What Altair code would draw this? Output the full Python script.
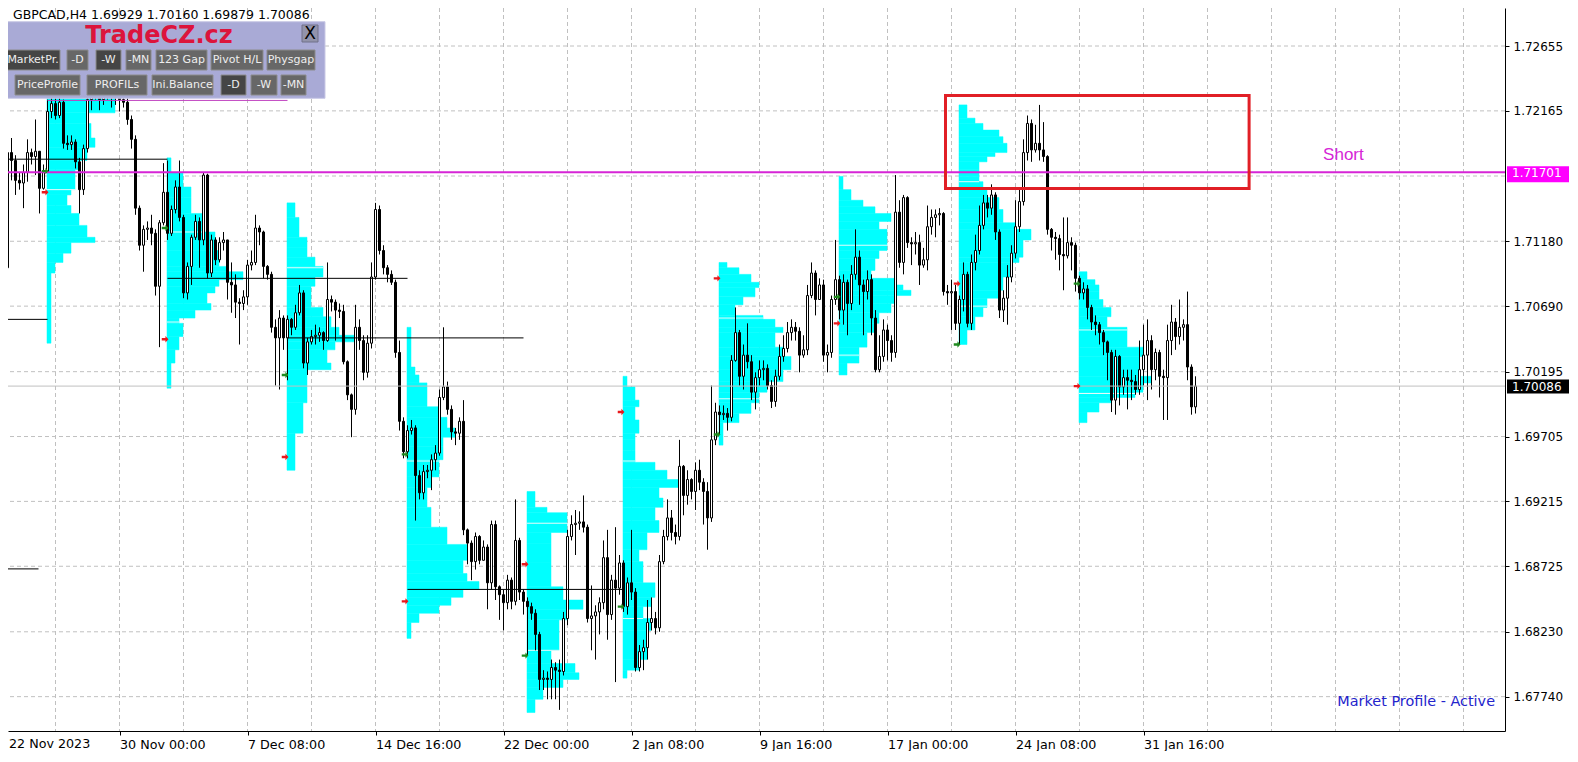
import altair as alt
import pandas as pd

# ---------------- data ----------------
symbol_line = "GBPCAD,H4  1.69929 1.70160 1.69879 1.70086"
first_open = 1.7100

close = [
1.7108, 1.7098, 1.7185, 1.7179, 1.7164, 1.7162, 1.7170, 1.7185, 1.7182, 1.7186, 1.7158, 1.7170,
1.7216, 1.7222, 1.7213, 1.7223, 1.7192, 1.7191, 1.7193, 1.7178, 1.7157, 1.7188, 1.7225, 1.7229, 1.7234, 1.7225, 1.7231, 1.7236, 1.7229, 1.7232, 1.7225, 1.7223, 1.7210, 1.7195, 1.7143, 1.7115, 1.7127, 1.7128, 1.7124, 1.7084, 1.7132, 1.7155,
1.7124, 1.7142, 1.7159, 1.7136, 1.7079, 1.7099, 1.7121, 1.7133, 1.7119, 1.7168, 1.7094, 1.7119, 1.7104, 1.7117, 1.7119, 1.7087, 1.7085, 1.7072, 1.7071, 1.7076, 1.7100, 1.7102, 1.7128, 1.7125, 1.7099, 1.7093, 1.7053, 1.7045, 1.7060, 1.7045,
1.7059, 1.7053, 1.7064, 1.7079, 1.7026, 1.7042, 1.7046, 1.7047, 1.7049, 1.7043, 1.7074, 1.7072, 1.7066, 1.7065, 1.7027, 1.7002, 1.6991, 1.7053, 1.7043, 1.7019, 1.7041, 1.7091, 1.7142, 1.7111, 1.7098, 1.7093, 1.7087, 1.7034, 1.6982, 1.6959,
1.6975, 1.6977, 1.6941, 1.6928, 1.6944, 1.6945, 1.6953, 1.6958, 1.7000, 1.7008, 1.6991, 1.6974, 1.6973, 1.6982, 1.6900, 1.6890, 1.6876, 1.6895, 1.6877, 1.6887, 1.6860, 1.6904, 1.6857, 1.6851, 1.6845, 1.6862, 1.6846, 1.6892, 1.6853, 1.6846,
1.6842, 1.6837, 1.6821, 1.6787, 1.6788, 1.6787, 1.6796, 1.6794, 1.6793, 1.6833, 1.6895, 1.6904, 1.6905, 1.6906, 1.6902, 1.6833, 1.6835, 1.6838, 1.6845, 1.6879, 1.6836, 1.6862, 1.6856, 1.6875,
1.6842, 1.6860, 1.6853, 1.6796, 1.6808, 1.6811, 1.6830, 1.6833, 1.6826, 1.6876, 1.6895, 1.6909, 1.6898, 1.6895, 1.6948, 1.6926, 1.6938, 1.6929, 1.6945, 1.6936, 1.6929, 1.6909, 1.6968, 1.6989,
1.6987, 1.6988, 1.6985, 1.7028, 1.7049, 1.7016, 1.7032, 1.7027, 1.7004, 1.7015, 1.7021, 1.7022, 1.7009, 1.6997, 1.7016, 1.7031, 1.7037, 1.7049, 1.7053, 1.7050, 1.7032, 1.7036, 1.7077, 1.7094, 1.7074, 1.7085, 1.7032, 1.7034, 1.7074, 1.7089,
1.7066, 1.7087, 1.7071, 1.7093, 1.7106, 1.7085, 1.7080, 1.7089, 1.7060, 1.7021, 1.7031, 1.7051, 1.7043, 1.7034, 1.7140, 1.7102, 1.7151, 1.7117, 1.7116, 1.7117, 1.7100, 1.7104, 1.7129, 1.7136, 1.7138, 1.7139, 1.7080, 1.7079, 1.7080, 1.7056,
1.7074, 1.7093, 1.7056, 1.7102, 1.7111, 1.7130, 1.7147, 1.7143, 1.7153, 1.7125, 1.7066, 1.7075, 1.7091, 1.7109, 1.7129, 1.7148, 1.7185, 1.7207, 1.7187, 1.7192, 1.7187, 1.7182, 1.7127, 1.7121, 1.7120, 1.7108, 1.7107, 1.7117, 1.7115, 1.7090,
1.7079, 1.7082, 1.7068, 1.7057, 1.7055, 1.7049, 1.7042, 1.7034, 1.6998, 1.7031, 1.7008, 1.7015, 1.7013, 1.7012, 1.7006, 1.7021, 1.7032, 1.7043, 1.7021, 1.7034, 1.7016, 1.7015, 1.7043, 1.7057, 1.7046, 1.7053, 1.7055, 1.7023, 1.69929, 1.70086]

high = [
1.7113, 1.7113, 1.7188, 1.7196, 1.7183, 1.7170, 1.7176, 1.7195, 1.7188, 1.7210, 1.7186, 1.7176,
1.7225, 1.7231, 1.7226, 1.7231, 1.7225, 1.7198, 1.7198, 1.7195, 1.7181, 1.7191, 1.7231, 1.7240, 1.7244, 1.7236, 1.7240, 1.7247, 1.7240, 1.7241, 1.7236, 1.7232, 1.7226, 1.7213, 1.7198, 1.7145, 1.7130, 1.7133, 1.7138, 1.7127, 1.7134, 1.7177,
1.7179, 1.7145, 1.7164, 1.7179, 1.7138, 1.7102, 1.7123, 1.7138, 1.7136, 1.7170, 1.7169, 1.7123, 1.7121, 1.7121, 1.7125, 1.7119, 1.7102, 1.7093, 1.7075, 1.7081, 1.7104, 1.7111, 1.7138, 1.7130, 1.7126, 1.7100, 1.7095, 1.7059, 1.7066, 1.7062,
1.7062, 1.7060, 1.7070, 1.7085, 1.7081, 1.7045, 1.7051, 1.7055, 1.7053, 1.7050, 1.7102, 1.7077, 1.7074, 1.7071, 1.7070, 1.7028, 1.7003, 1.7070, 1.7059, 1.7047, 1.7047, 1.7102, 1.7147, 1.7145, 1.7115, 1.7100, 1.7096, 1.7089, 1.7043, 1.6985,
1.6979, 1.6983, 1.6979, 1.6945, 1.6949, 1.6949, 1.6957, 1.6964, 1.7006, 1.7053, 1.7012, 1.6994, 1.6977, 1.6985, 1.6998, 1.6901, 1.6892, 1.6898, 1.6896, 1.6892, 1.6889, 1.6907, 1.6907, 1.6858, 1.6855, 1.6866, 1.6864, 1.6923, 1.6894, 1.6855,
1.6849, 1.6845, 1.6840, 1.6823, 1.6794, 1.6793, 1.6802, 1.6800, 1.6802, 1.6838, 1.6900, 1.6911, 1.6915, 1.6914, 1.6926, 1.6904, 1.6858, 1.6843, 1.6849, 1.6892, 1.6900, 1.6866, 1.6902, 1.6881,
1.6877, 1.6864, 1.6900, 1.6856, 1.6813, 1.6817, 1.6847, 1.6849, 1.6838, 1.6881, 1.6900, 1.6923, 1.6915, 1.6904, 1.6968, 1.6949, 1.6945, 1.6939, 1.6951, 1.6953, 1.6939, 1.6936, 1.7009, 1.6996,
1.6994, 1.6994, 1.6992, 1.7032, 1.7068, 1.7051, 1.7040, 1.7056, 1.7032, 1.7019, 1.7028, 1.7028, 1.7025, 1.7013, 1.7021, 1.7040, 1.7047, 1.7057, 1.7059, 1.7057, 1.7053, 1.7047, 1.7085, 1.7102, 1.7096, 1.7090, 1.7089, 1.7040, 1.7077, 1.7119,
1.7092, 1.7093, 1.7089, 1.7100, 1.7127, 1.7111, 1.7089, 1.7096, 1.7093, 1.7066, 1.7047, 1.7059, 1.7055, 1.7047, 1.7168, 1.7149, 1.7153, 1.7152, 1.7121, 1.7125, 1.7123, 1.7113, 1.7145, 1.7142, 1.7142, 1.7143, 1.7140, 1.7085, 1.7089, 1.7085,
1.7077, 1.7102, 1.7095, 1.7108, 1.7123, 1.7145, 1.7153, 1.7153, 1.7161, 1.7155, 1.7127, 1.7081, 1.7100, 1.7115, 1.7149, 1.7157, 1.7195, 1.7213, 1.7210, 1.7206, 1.7221, 1.7208, 1.7183, 1.7128, 1.7125, 1.7123, 1.7136, 1.7136, 1.7121, 1.7117,
1.7092, 1.7087, 1.7085, 1.7070, 1.7062, 1.7057, 1.7051, 1.7043, 1.7036, 1.7036, 1.7032, 1.7021, 1.7021, 1.7021, 1.7017, 1.7043, 1.7055, 1.7059, 1.7047, 1.7037, 1.7036, 1.7021, 1.7055, 1.7070, 1.7060, 1.7074, 1.7059, 1.7080, 1.7025, 1.70160]

low = [
1.7096, 1.7084, 1.7081, 1.7164, 1.7153, 1.7157, 1.7143, 1.7163, 1.7176, 1.7168, 1.7139, 1.7157,
1.7170, 1.7211, 1.7210, 1.7211, 1.7188, 1.7187, 1.7187, 1.7173, 1.7139, 1.7153, 1.7185, 1.7217, 1.7225, 1.7217, 1.7221, 1.7225, 1.7219, 1.7221, 1.7216, 1.7219, 1.7206, 1.7188, 1.7138, 1.7111, 1.7095, 1.7119, 1.7115, 1.7077, 1.7038, 1.7130,
1.7119, 1.7122, 1.7139, 1.7133, 1.7075, 1.7074, 1.7085, 1.7119, 1.7098, 1.7115, 1.7090, 1.7091, 1.7100, 1.7102, 1.7111, 1.7074, 1.7064, 1.7060, 1.7040, 1.7066, 1.7070, 1.7096, 1.7100, 1.7115, 1.7090, 1.7089, 1.7049, 1.7009, 1.7006, 1.7036,
1.7013, 1.7047, 1.7051, 1.7062, 1.7022, 1.7017, 1.7040, 1.7040, 1.7042, 1.7036, 1.7042, 1.7065, 1.7043, 1.7060, 1.7025, 1.6998, 1.6970, 1.6987, 1.7036, 1.7013, 1.7015, 1.7037, 1.7089, 1.7108, 1.7093, 1.7087, 1.7085, 1.7030, 1.6975, 1.6954,
1.6954, 1.6972, 1.6907, 1.6923, 1.6923, 1.6939, 1.6930, 1.6945, 1.6956, 1.6998, 1.6987, 1.6968, 1.6964, 1.6968, 1.6896, 1.6874, 1.6862, 1.6870, 1.6874, 1.6877, 1.6840, 1.6855, 1.6847, 1.6832, 1.6824, 1.6840, 1.6840, 1.6843, 1.6847, 1.6836,
1.6805, 1.6832, 1.6809, 1.6779, 1.6779, 1.6772, 1.6772, 1.6772, 1.6764, 1.6790, 1.6828, 1.6892, 1.6881, 1.6900, 1.6898, 1.6830, 1.6809, 1.6802, 1.6821, 1.6840, 1.6817, 1.6832, 1.6785, 1.6851,
1.6838, 1.6836, 1.6847, 1.6793, 1.6793, 1.6794, 1.6802, 1.6824, 1.6821, 1.6823, 1.6874, 1.6892, 1.6892, 1.6889, 1.6892, 1.6911, 1.6919, 1.6923, 1.6915, 1.6930, 1.6904, 1.6885, 1.6906, 1.6964,
1.6972, 1.6983, 1.6975, 1.6982, 1.7027, 1.7009, 1.7006, 1.7022, 1.6998, 1.6991, 1.7009, 1.7013, 1.7006, 1.6992, 1.6993, 1.7013, 1.7027, 1.7034, 1.7043, 1.7043, 1.7019, 1.7030, 1.7032, 1.7075, 1.7062, 1.7074, 1.7027, 1.7019, 1.7030, 1.7070,
1.7059, 1.7055, 1.7047, 1.7066, 1.7089, 1.7070, 1.7047, 1.7074, 1.7047, 1.7019, 1.7019, 1.7027, 1.7028, 1.7027, 1.7030, 1.7098, 1.7093, 1.7113, 1.7100, 1.7108, 1.7085, 1.7098, 1.7096, 1.7123, 1.7121, 1.7130, 1.7077, 1.7070, 1.7051, 1.7051,
1.7040, 1.7065, 1.7053, 1.7051, 1.7096, 1.7108, 1.7127, 1.7136, 1.7138, 1.7119, 1.7060, 1.7057, 1.7055, 1.7087, 1.7105, 1.7125, 1.7145, 1.7179, 1.7178, 1.7185, 1.7179, 1.7178, 1.7123, 1.7111, 1.7104, 1.7096, 1.7081, 1.7105, 1.7096, 1.7080,
1.7074, 1.7074, 1.7059, 1.7051, 1.7047, 1.7040, 1.7032, 1.7013, 1.6989, 1.6987, 1.6994, 1.7002, 1.6991, 1.6998, 1.7002, 1.7002, 1.7009, 1.6998, 1.7006, 1.7013, 1.7000, 1.6983, 1.6983, 1.7032, 1.7036, 1.7040, 1.7043, 1.7013, 1.6987, 1.69879]

# weekly market profiles: first bar of each week, row price edges, TPO counts per row
week_start = [12, 42, 72, 102, 132, 156, 180, 210, 240, 270]
prof1_edges = [1.7229, 1.7215, 1.7207, 1.7196, 1.7189, 1.7179, 1.7172, 1.7157, 1.7153, 1.7145, 1.7139, 1.7130, 1.7121, 1.7117, 1.7109, 1.7102, 1.7094, 1.7041]
prof1_counts = [17, 10, 11, 12, 10, 8, 7, 6, 5, 6, 8, 10, 12, 6, 4, 2, 1]
prof2_edges = [1.7181, 1.7170, 1.7159, 1.7151, 1.7139, 1.7125, 1.7111, 1.7099, 1.7095, 1.7089, 1.7084, 1.7079, 1.7071, 1.7066, 1.7060, 1.7056, 1.7046, 1.7036, 1.7026, 1.7007]
prof2_counts = [1, 4, 6, 6, 9, 12, 13, 15, 19, 13, 12, 10, 11, 7, 3, 4, 3, 2, 1]
prof3_edges = [1.7147, 1.7136, 1.7121, 1.7113, 1.7106, 1.7099, 1.7091, 1.7084, 1.7068, 1.7061, 1.7053, 1.7047, 1.7042, 1.7036, 1.7026, 1.7021, 1.6996, 1.6973, 1.6945]
prof3_counts = [2, 3, 5, 5, 7, 9, 7, 6, 9, 11, 13, 17, 12, 10, 11, 5, 4, 2]
prof4_edges = [1.7053, 1.7023, 1.7017, 1.7011, 1.6993, 1.6985, 1.6977, 1.6970, 1.6963, 1.6953, 1.6940, 1.6932, 1.6917, 1.6902, 1.6889, 1.6877, 1.6867, 1.6861, 1.6855, 1.6849, 1.6843, 1.6837, 1.6830, 1.6818]
prof4_counts = [1, 2, 3, 5, 8, 10, 12, 9, 9, 8, 6, 5, 6, 10, 15, 14, 15, 18, 14, 11, 8, 3, 1]
prof5_edges = [1.6929, 1.6917, 1.6913, 1.6905, 1.6898, 1.6890, 1.6875, 1.6857, 1.6847, 1.6840, 1.6832, 1.6809, 1.6799, 1.6792, 1.6787, 1.6781, 1.6772, 1.6762]
prof5_counts = [2, 5, 10, 10, 6, 6, 6, 9, 14, 10, 8, 6, 12, 13, 9, 4, 2]
prof6_edges = [1.7016, 1.7008, 1.6998, 1.6993, 1.6983, 1.6973, 1.6968, 1.6960, 1.6951, 1.6945, 1.6938, 1.6932, 1.6924, 1.6917, 1.6907, 1.6898, 1.6885, 1.6876, 1.6860, 1.6849, 1.6842, 1.6833, 1.6824, 1.6802, 1.6794, 1.6788]
prof6_counts = [1, 3, 4, 3, 4, 3, 3, 3, 8, 11, 14, 9, 10, 8, 9, 6, 4, 5, 8, 7, 5, 7, 6, 4, 1]
prof7_edges = [1.7102, 1.7098, 1.7093, 1.7087, 1.7083, 1.7076, 1.7070, 1.7062, 1.7059, 1.7053, 1.7049, 1.7038, 1.7031, 1.7021, 1.7012, 1.7004, 1.6996, 1.6988, 1.6981, 1.6964]
prof7_counts = [2, 5, 8, 10, 9, 6, 4, 11, 14, 16, 14, 16, 18, 16, 12, 10, 8, 5, 1]
prof8_edges = [1.7167, 1.7157, 1.7149, 1.7144, 1.7139, 1.7133, 1.7127, 1.7119, 1.7111, 1.7105, 1.7096, 1.7090, 1.7085, 1.7081, 1.7077, 1.7071, 1.7064, 1.7056, 1.7049, 1.7038, 1.7031, 1.7026, 1.7017]
prof8_counts = [1, 3, 6, 9, 13, 10, 12, 12, 10, 9, 8, 14, 16, 18, 14, 13, 10, 9, 7, 5, 5, 2]
prof9_edges = [1.7221, 1.7211, 1.7207, 1.7202, 1.7197, 1.7192, 1.7185, 1.7182, 1.7178, 1.7172, 1.7167, 1.7163, 1.7157, 1.7151, 1.7142, 1.7132, 1.7127, 1.7119, 1.7106, 1.7102, 1.7091, 1.7081, 1.7075, 1.7068, 1.7061, 1.7051, 1.7040]
prof9_counts = [2, 4, 6, 10, 11, 12, 9, 7, 5, 5, 5, 6, 7, 10, 11, 14, 18, 16, 15, 13, 11, 10, 7, 6, 4, 2]
prof10_edges = [1.7095, 1.7089, 1.7085, 1.7080, 1.7074, 1.7068, 1.7061, 1.7053, 1.7051, 1.7038, 1.7031, 1.7016, 1.7011, 1.7004, 1.7000, 1.6996, 1.6989, 1.6981]
prof10_counts = [2, 4, 5, 5, 6, 8, 7, 12, 12, 16, 15, 18, 16, 14, 8, 5, 2]
# value-area boundary levels drawn inside each profile
va_levels = [[1.7157], [1.7125, 1.7057], [1.7098], [1.6952], [1.6905, 1.6809],
             [1.6952, 1.6833], [1.7060, 1.6999], [1.7115, 1.7032], [1.7163, 1.7069], [1.7051, 1.7003]]

# naked POC lines (price, from bar, to bar)
poc_price = [1.7180, 1.7059, 1.68705, 1.7090, 1.7045, 1.6855]
poc_from = [-2, -2, -2, 42, 72, 102]
poc_to = [42, 12, 9.75, 102, 131, 156]
week_high_price = 1.72244
week_high_from, week_high_to = 12, 72

short_level = 1.71701
last_price = 1.70086
box_time = [236.5, 312.4]
box_price = [1.72281, 1.71579]
short_time, short_price = 330.9, 1.71832

week_open_mark = [1.7171, 1.7128, 1.7017, 1.6957, 1.6805, 1.6842, 1.6972, 1.7076, 1.7040, 1.7086]
week_close_mark = [1.7155, 1.7044, 1.6955, 1.6846, 1.6874, 1.6989, 1.7090, 1.7056, 1.7086, 1.70086]

grid_prices = [1.72655, 1.72165, 1.71673, 1.71180, 1.70690, 1.70195, 1.69705, 1.69215, 1.68725, 1.68230, 1.67740]
price_labels = [1.72655, 1.72165, 1.71180, 1.70690, 1.70195, 1.69705, 1.69215, 1.68725, 1.68230, 1.67740]
time_ticks = [30, 62, 94, 126, 158, 190, 222, 254, 286]
time_labels = ["30 Nov 00:00", "7 Dec 08:00", "14 Dec 16:00", "22 Dec 00:00",
               "2 Jan 08:00", "9 Jan 16:00", "17 Jan 00:00", "24 Jan 08:00", "31 Jan 16:00"]
first_time_label = "22 Nov 2023"
grid_times = [14, 30, 46, 62, 78, 94, 110, 126, 142, 158, 174, 190, 206, 222, 238, 254, 270, 286, 302, 318, 334, 350, 366]

assert len(close) == len(high) == len(low) == 300

# ---------------- layout / style ----------------
W, H = 1497, 723
xs = alt.Scale(domain=[2.125, 376.375], nice=False, zero=False)
ys = alt.Scale(domain=[1.674805, 1.729421], nice=False, zero=False)
FONT = "DejaVu Sans"
GRID = "#c0c0c0"
MAGENTA = "#d625d6"
XFS = 12.7

opens = [first_open] + close[:-1]
bars = pd.DataFrame({"t": list(range(300)), "open": opens, "close": close, "high": high, "low": low})

label_expr = "[" + ",".join("'%s'" % s for s in time_labels) + "][indexof([" + ",".join(str(v) for v in time_ticks) + "], datum.value)]"
x_axis = alt.Axis(orient="bottom", values=time_ticks, labelExpr=label_expr, tickSize=4, labelPadding=3,
                  labelAlign="left", labelFlush=False, labelOverlap=False, title=None, grid=False,
                  domainColor="black", tickColor="black", labelFont=FONT, labelFontSize=XFS, labelColor="black")
y_axis = alt.Axis(orient="right", values=price_labels, format=".5f", tickSize=4, labelPadding=4,
                  labelFlush=False, labelOverlap=False, title=None, grid=False,
                  domainColor="black", tickColor="black", labelFont=FONT, labelFontSize=12, labelColor="black")


def X(f):
    return alt.X(f, scale=xs, axis=x_axis)


def Y(f):
    return alt.Y(f, scale=ys, axis=y_axis)


layers = []

# grid
layers.append(alt.Chart(pd.DataFrame({"p": grid_prices})).mark_rule(color=GRID, strokeDash=[4, 3], strokeWidth=1)
              .encode(y=Y("p:Q")))
layers.append(alt.Chart(pd.DataFrame({"t": grid_times})).mark_rule(color=GRID, strokeDash=[4, 3], strokeWidth=1, clip=True)
              .encode(x=X("t:Q")))

# profiles
profiles = [(prof1_edges, prof1_counts), (prof2_edges, prof2_counts), (prof3_edges, prof3_counts),
            (prof4_edges, prof4_counts), (prof5_edges, prof5_counts), (prof6_edges, prof6_counts),
            (prof7_edges, prof7_counts), (prof8_edges, prof8_counts), (prof9_edges, prof9_counts),
            (prof10_edges, prof10_counts)]
rows, va_rows = [], []
for k, (edges, counts) in enumerate(profiles):
    x0 = week_start[k] - 0.125
    for j, c in enumerate(counts):
        rows.append({"x0": x0, "x1": x0 + c, "p0": edges[j], "p1": edges[j + 1]})
    for lv in va_levels[k]:
        for j, c in enumerate(counts):
            if edges[j] >= lv >= edges[j + 1]:
                va_rows.append({"x0": x0, "x1": x0 + c, "p": lv})
                break
prof_df = pd.DataFrame(rows)
layers.append(alt.Chart(prof_df).mark_rect(color="#00ffff", stroke="#00ffff", strokeWidth=0.5, clip=True)
              .encode(x=X("x0:Q"), x2="x1:Q", y=Y("p0:Q"), y2="p1:Q"))
layers.append(alt.Chart(pd.DataFrame(va_rows)).mark_rule(color="#e4fbfb", strokeWidth=1, clip=True)
              .encode(x=X("x0:Q"), x2="x1:Q", y=Y("p:Q")))

# candles
layers.append(alt.Chart(bars).mark_rule(color="black", strokeWidth=1, clip=True)
              .encode(x=X("t:Q"), y=Y("low:Q"), y2="high:Q"))
layers.append(alt.Chart(bars).transform_calculate(b0="datum.t - 0.25", b1="datum.t + 0.25")
              .mark_rect(stroke="black", strokeWidth=1, clip=True)
              .encode(x=X("b0:Q"), x2="b1:Q", y=Y("open:Q"), y2="close:Q",
                      fill=alt.condition("datum.close >= datum.open", alt.value("white"), alt.value("black"))))

# POC lines
poc_df = pd.DataFrame({"p": poc_price, "a": poc_from, "b": poc_to})
layers.append(alt.Chart(poc_df).mark_rule(color="black", strokeWidth=1, clip=True)
              .encode(x=X("a:Q"), x2="b:Q", y=Y("p:Q")))
layers.append(alt.Chart(pd.DataFrame({"p": [week_high_price], "a": [week_high_from], "b": [week_high_to]}))
              .mark_rule(color="#c040c0", strokeWidth=1, clip=True)
              .encode(x=X("a:Q"), x2="b:Q", y=Y("p:Q")))

# price lines
layers.append(alt.Chart(pd.DataFrame({"p": [last_price]})).mark_rule(color="#c0c0c0", strokeWidth=1)
              .encode(y=Y("p:Q")))
layers.append(alt.Chart(pd.DataFrame({"p": [short_level]})).mark_rule(color=MAGENTA, strokeWidth=2)
              .encode(y=Y("p:Q")))

# red box
layers.append(alt.Chart(pd.DataFrame({"a": [box_time[0]], "b": [box_time[1]], "p0": [box_price[0]], "p1": [box_price[1]]}))
              .mark_rect(fillOpacity=0, stroke="#e11f26", strokeWidth=3, clip=True)
              .encode(x=X("a:Q"), x2="b:Q", y=Y("p0:Q"), y2="p1:Q"))

# week open / close markers
arrow = "M -1 -0.35 L 0.1 -0.35 L 0.1 -0.95 L 1 0 L 0.1 0.95 L 0.1 0.35 L -1 0.35 Z"
mk = pd.DataFrame({"t": [w - 0.6 for w in week_start] * 2,
                   "p": week_open_mark + week_close_mark,
                   "kind": ["open"] * 10 + ["close"] * 10})
layers.append(alt.Chart(mk).mark_point(shape=arrow, filled=True, size=45, opacity=1, clip=True)
              .encode(x=X("t:Q"), y=Y("p:Q"),
                      color=alt.Color("kind:N", scale=alt.Scale(domain=["open", "close"], range=["#1f8a1f", "#e8191c"]), legend=None)))

# "Short" text
layers.append(alt.Chart(pd.DataFrame({"t": [short_time], "p": [short_price], "s": ["Short"]}))
              .mark_text(align="left", baseline="middle", font="Liberation Sans", fontSize=17, color=MAGENTA)
              .encode(x=X("t:Q"), y=Y("p:Q"), text="s:N"))

# first time label at the left edge of the time scale
layers.append(alt.Chart(pd.DataFrame({"s": [first_time_label]}))
              .mark_text(align="left", baseline="top", font=FONT, fontSize=XFS, color="black")
              .encode(x=alt.value(1), y=alt.value(H + 7), text="s:N"))

# price labels on the right scale
layers.append(alt.Chart(pd.DataFrame({"p": [short_level]})).mark_rule(color="#ff00ff", strokeWidth=16, strokeCap="butt", yOffset=2)
              .encode(x=alt.value(1499), x2=alt.value(1561), y=Y("p:Q")))
layers.append(alt.Chart(pd.DataFrame({"p": [last_price]})).mark_rule(color="black", strokeWidth=14, strokeCap="butt", yOffset=0.5)
              .encode(x=alt.value(1499), x2=alt.value(1561), y=Y("p:Q")))
layers.append(alt.Chart(pd.DataFrame({"p": [short_level, last_price],
                                      "s": ["%.5f" % short_level, "%.5f" % last_price]}))
              .mark_text(align="left", baseline="middle", font=FONT, fontSize=12, color="white", dy=1)
              .encode(x=alt.value(1504), y=Y("p:Q"), text="s:N"))

# indicator status label
layers.append(alt.Chart(pd.DataFrame({"s": ["Market Profile - Active"]}))
              .mark_text(align="right", baseline="middle", font=FONT, fontSize=14.4, color="#2424cc")
              .encode(x=alt.value(1487), y=alt.value(694), text="s:N"))

# ---------------- panel (screen-anchored) ----------------
panel_box = pd.DataFrame({"x0": [-8], "x1": [317], "y0": [13.7], "y1": [90.3]})
layers.append(alt.Chart(panel_box).mark_rect(color="#a9aad6", stroke="#c9c9e6", strokeWidth=1)
              .encode(x=alt.X("x0:Q", scale=None, axis=None), x2="x1:Q",
                      y=alt.Y("y0:Q", scale=None, axis=None), y2="y1:Q"))

btn_label = ["MarketPr.", "-D", "-W", "-MN", "123 Gap", "Pivot H/L", "Physgap",
             "PriceProfile", "PROFILs", "Ini.Balance", "-D", "-W", "-MN"]
btn_x0 = [-2, 59, 88, 118, 148, 203, 259, 7, 79, 144, 213, 243, 273]
btn_x1 = [52, 80, 113, 143, 199, 255, 307, 72, 139, 205, 238, 269, 298]
btn_row = [0, 0, 0, 0, 0, 0, 0, 1, 1, 1, 1, 1, 1]
btn_dark = [1, 0, 1, 0, 0, 0, 0, 0, 0, 0, 1, 0, 0]
btn = pd.DataFrame({"s": btn_label, "x0": btn_x0, "x1": btn_x1,
                    "y0": [42 + 25 * r for r in btn_row], "y1": [62 + 25 * r for r in btn_row],
                    "fill": ["#454545" if d else "#676767" for d in btn_dark]})
btn["xm"] = (btn.x0 + btn.x1) / 2
btn["ym"] = (btn.y0 + btn.y1) / 2
layers.append(alt.Chart(btn).mark_rect(stroke="#8c8c8c", strokeWidth=1)
              .encode(x=alt.X("x0:Q", scale=None, axis=None), x2="x1:Q",
                      y=alt.Y("y0:Q", scale=None, axis=None), y2="y1:Q",
                      fill=alt.Fill("fill:N", scale=None)))
layers.append(alt.Chart(btn).mark_text(align="center", baseline="middle", font=FONT, fontSize=11, color="#eeeeee")
              .encode(x=alt.X("xm:Q", scale=None, axis=None), y=alt.Y("ym:Q", scale=None, axis=None), text="s:N"))

close_btn = pd.DataFrame({"x0": [294], "x1": [310], "y0": [17], "y1": [34], "s": ["X"], "xm": [302], "ym": [25.5]})
layers.append(alt.Chart(close_btn).mark_rect(color="#9293ab", stroke="#70708a", strokeWidth=1)
              .encode(x=alt.X("x0:Q", scale=None, axis=None), x2="x1:Q",
                      y=alt.Y("y0:Q", scale=None, axis=None), y2="y1:Q"))
layers.append(alt.Chart(close_btn).mark_text(align="center", baseline="middle", font=FONT, fontSize=17, color="black")
              .encode(x=alt.X("xm:Q", scale=None, axis=None), y=alt.Y("ym:Q", scale=None, axis=None), text="s:N"))

layers.append(alt.Chart(pd.DataFrame({"s": ["TradeCZ.cz"]}))
              .mark_text(align="center", baseline="middle", font=FONT, fontSize=24, fontWeight="bold", color="#dc143c")
              .encode(x=alt.value(151), y=alt.value(28), text="s:N"))

layers.append(alt.Chart(pd.DataFrame({"s": [symbol_line]}))
              .mark_text(align="left", baseline="middle", font=FONT, fontSize=12.5, color="black")
              .encode(x=alt.value(5), y=alt.value(7), text="s:N"))

chart = (alt.layer(*layers)
         .properties(width=W, height=H, autosize=alt.AutoSizeParams(type="none"),
                     padding={"left": 0, "top": 0, "right": 65, "bottom": 20})
         .configure(background="white")
         .configure_view(strokeWidth=0))

chart.save("out.html", embed_options={"renderer": "svg", "actions": False})
